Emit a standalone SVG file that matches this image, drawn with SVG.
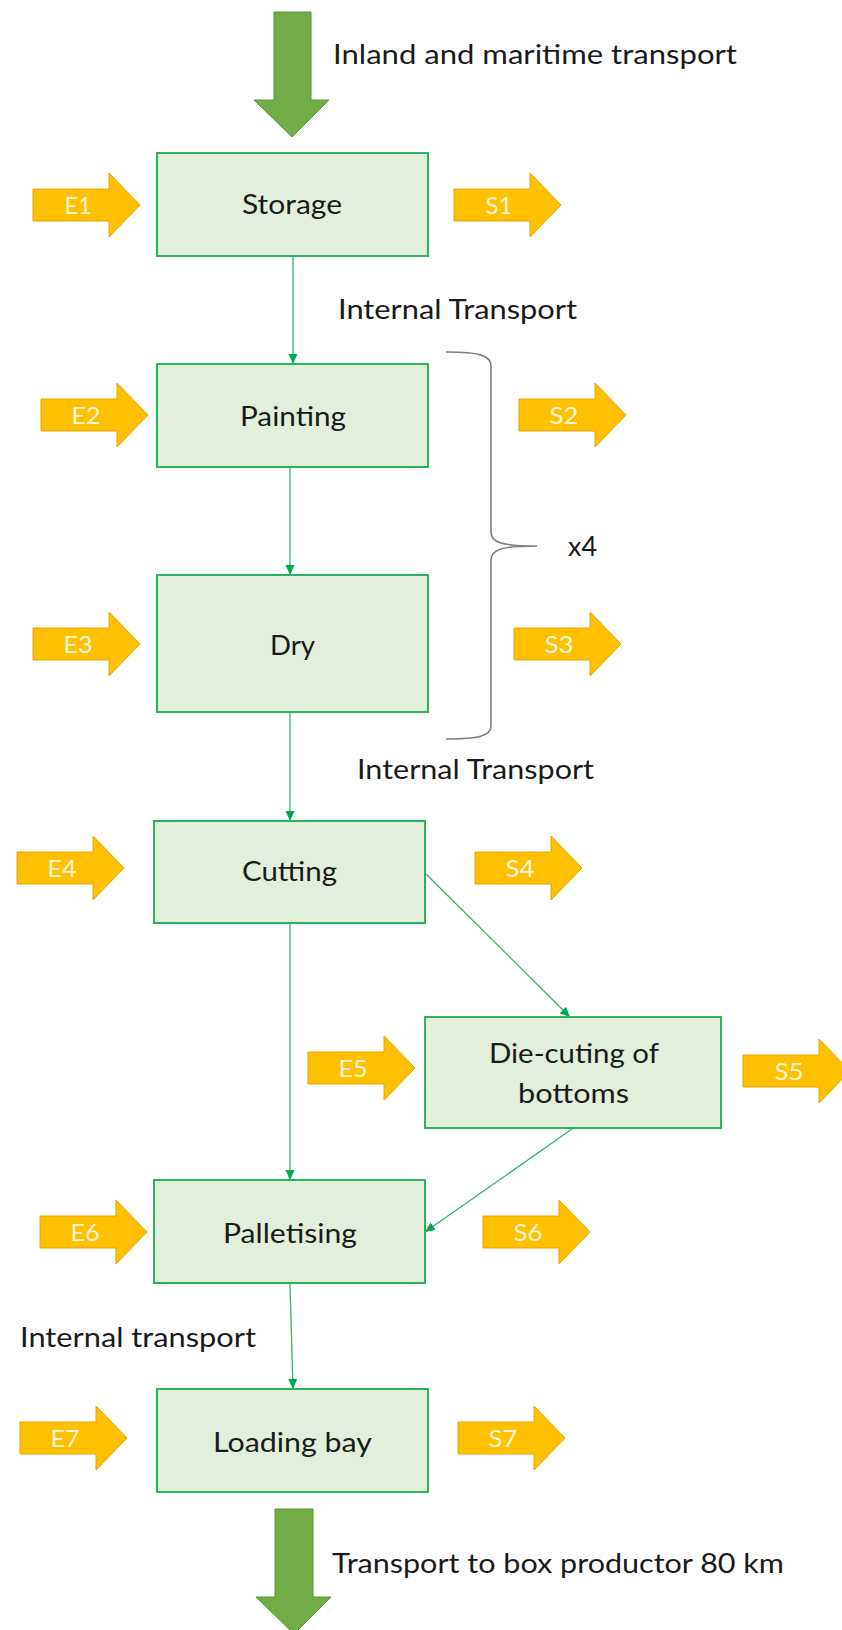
<svg xmlns="http://www.w3.org/2000/svg" xmlns:xlink="http://www.w3.org/1999/xlink" width="842" height="1630" viewBox="0 0 842 1630">
<style>
.box{fill:#E2EFDA;stroke:#2DB35F;stroke-width:2}
.t{font-family:Lato,"Liberation Sans",sans-serif;font-size:26px;fill:#1A1A1A}
.lbl{font-family:Lato,"Liberation Sans",sans-serif;font-size:24px;fill:#FFF6DC;text-anchor:middle}
.oa{fill:#FFC000;stroke:#E3A400;stroke-width:1}
.ga{fill:#70AD47;stroke:#5B9236;stroke-width:1}
.con{stroke:#33B36B;stroke-width:1.3;fill:none;marker-end:url(#ah)}
.brace{stroke:#7F7F7F;stroke-width:1.6;fill:none}
</style>
<defs>
<marker id="ah" markerUnits="userSpaceOnUse" markerWidth="10" markerHeight="10" refX="10" refY="4.5" orient="auto">
<path d="M0,0 L10,4.5 L0,9 Z" fill="#00A84F"/>
</marker>
<path id="ob" class="oa" d="M0,-16 H76 V-32 L107,0 L76,32 V16 H0 Z"/>
</defs>
<rect width="842" height="1630" fill="#FFFFFF"/>

<g id="connectors">
<line class="con" x1="293" y1="257" x2="293" y2="364"/>
<line class="con" x1="290" y1="468" x2="290" y2="575"/>
<line class="con" x1="290" y1="713" x2="290" y2="821"/>
<line class="con" x1="290" y1="924" x2="290" y2="1180"/>
<line class="con" x1="425" y1="873" x2="570" y2="1017"/>
<line class="con" x1="572" y1="1129" x2="425" y2="1232"/>
<line class="con" x1="290" y1="1284" x2="293" y2="1389"/>
</g>

<g id="transport-in">
<path class="ga" d="M274,12 H311 V100 H329 L292,137 L254,100 H274 Z"/>
<text class="t" x="333" y="64" textLength="404" lengthAdjust="spacingAndGlyphs">Inland and maritime transport</text>
</g>

<g id="storage">
<rect class="box" x="157" y="153" width="271" height="103"/>
<text class="t" x="242" y="214" textLength="100" lengthAdjust="spacingAndGlyphs">Storage</text>
</g>
<g id="E1"><use xlink:href="#ob" x="33" y="205"/><text class="lbl" x="78" y="214" textLength="27" lengthAdjust="spacingAndGlyphs">E1</text></g>
<g id="S1"><use xlink:href="#ob" x="454" y="205"/><text class="lbl" x="499" y="214" textLength="27" lengthAdjust="spacingAndGlyphs">S1</text></g>

<g id="internal-transport-1">
<text class="t" x="338" y="319" textLength="239" lengthAdjust="spacingAndGlyphs">Internal Transport</text>
</g>

<g id="painting">
<rect class="box" x="157" y="364" width="271" height="103"/>
<text class="t" x="240" y="426" textLength="106" lengthAdjust="spacingAndGlyphs">Painting</text>
</g>
<g id="E2"><use xlink:href="#ob" x="41" y="415"/><text class="lbl" x="86" y="424" textLength="29" lengthAdjust="spacingAndGlyphs">E2</text></g>
<g id="S2"><use xlink:href="#ob" x="519" y="415"/><text class="lbl" x="564" y="424" textLength="29" lengthAdjust="spacingAndGlyphs">S2</text></g>

<g id="dry">
<rect class="box" x="157" y="575" width="271" height="137"/>
<text class="t" x="270" y="655" textLength="45" lengthAdjust="spacingAndGlyphs">Dry</text>
</g>
<g id="E3"><use xlink:href="#ob" x="33" y="644"/><text class="lbl" x="78" y="653" textLength="29" lengthAdjust="spacingAndGlyphs">E3</text></g>
<g id="S3"><use xlink:href="#ob" x="514" y="644"/><text class="lbl" x="559" y="653" textLength="29" lengthAdjust="spacingAndGlyphs">S3</text></g>

<g id="repeat-brace">
<path class="brace" d="M446,352 C478,352 491,355 491,366 L491,532 C491,542 500,546 537,546 C500,546 491,550 491,560 L491,726 C491,736 478,739 446,739"/>
<text class="t" x="568" y="556" textLength="29" lengthAdjust="spacingAndGlyphs">x4</text>
</g>

<g id="internal-transport-2">
<text class="t" x="357" y="779" textLength="237" lengthAdjust="spacingAndGlyphs">Internal Transport</text>
</g>

<g id="cutting">
<rect class="box" x="154" y="821" width="271" height="102"/>
<text class="t" x="242" y="881" textLength="95" lengthAdjust="spacingAndGlyphs">Cutting</text>
</g>
<g id="E4"><use xlink:href="#ob" x="17" y="868"/><text class="lbl" x="62" y="877" textLength="29" lengthAdjust="spacingAndGlyphs">E4</text></g>
<g id="S4"><use xlink:href="#ob" x="475" y="868"/><text class="lbl" x="520" y="877" textLength="29" lengthAdjust="spacingAndGlyphs">S4</text></g>

<g id="die-cuting">
<rect class="box" x="425" y="1017" width="296" height="111"/>
<text class="t" x="489" y="1063" textLength="170" lengthAdjust="spacingAndGlyphs">Die-cuting of</text>
<text class="t" x="518" y="1103" textLength="111" lengthAdjust="spacingAndGlyphs">bottoms</text>
</g>
<g id="E5"><use xlink:href="#ob" x="308" y="1068"/><text class="lbl" x="353" y="1077" textLength="29" lengthAdjust="spacingAndGlyphs">E5</text></g>
<g id="S5"><use xlink:href="#ob" x="743" y="1071"/><text class="lbl" x="789" y="1080" textLength="29" lengthAdjust="spacingAndGlyphs">S5</text></g>

<g id="palletising">
<rect class="box" x="154" y="1180" width="271" height="103"/>
<text class="t" x="223" y="1243" textLength="134" lengthAdjust="spacingAndGlyphs">Palletising</text>
</g>
<g id="E6"><use xlink:href="#ob" x="40" y="1232"/><text class="lbl" x="85" y="1241" textLength="29" lengthAdjust="spacingAndGlyphs">E6</text></g>
<g id="S6"><use xlink:href="#ob" x="483" y="1232"/><text class="lbl" x="528" y="1241" textLength="29" lengthAdjust="spacingAndGlyphs">S6</text></g>

<g id="internal-transport-3">
<text class="t" x="20" y="1347" textLength="236" lengthAdjust="spacingAndGlyphs">Internal transport</text>
</g>

<g id="loading-bay">
<rect class="box" x="157" y="1389" width="271" height="103"/>
<text class="t" x="213" y="1452" textLength="159" lengthAdjust="spacingAndGlyphs">Loading bay</text>
</g>
<g id="E7"><use xlink:href="#ob" x="20" y="1438"/><text class="lbl" x="65" y="1447" textLength="29" lengthAdjust="spacingAndGlyphs">E7</text></g>
<g id="S7"><use xlink:href="#ob" x="458" y="1438"/><text class="lbl" x="503" y="1447" textLength="29" lengthAdjust="spacingAndGlyphs">S7</text></g>

<g id="transport-out">
<path class="ga" d="M275,1509 H313 V1597 H331 L294,1634 L256,1597 H275 Z"/>
<text class="t" x="332" y="1573" textLength="452" lengthAdjust="spacingAndGlyphs">Transport to box productor 80 km</text>
</g>
</svg>
